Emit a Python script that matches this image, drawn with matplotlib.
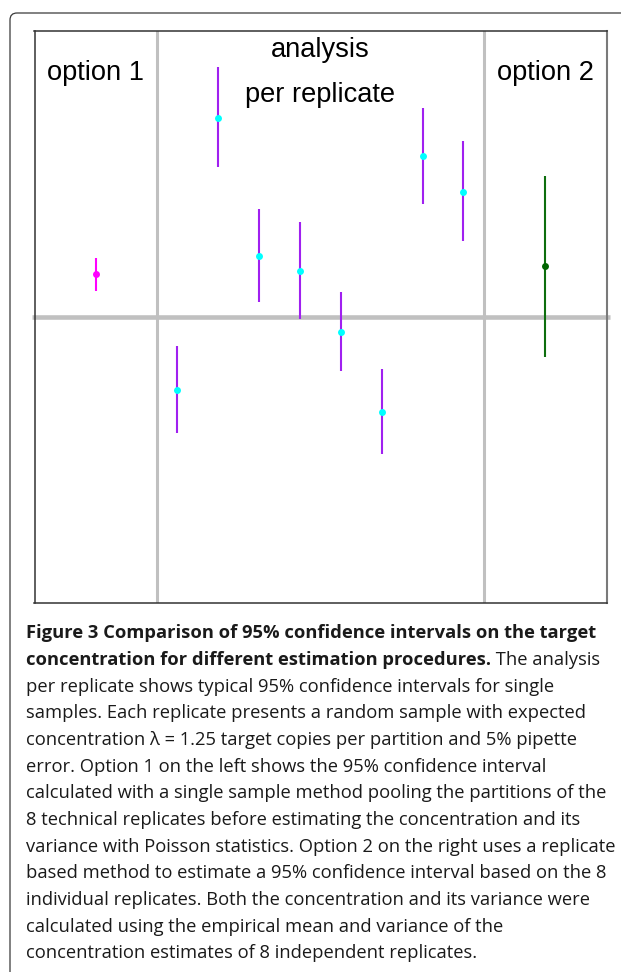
import matplotlib
matplotlib.use("Agg")
import matplotlib.pyplot as plt
from matplotlib.patches import FancyBboxPatch
from matplotlib.transforms import IdentityTransform

# concentration estimates (lambda) and 95% CI bounds
true_lambda = 1.25

rep_x = [1, 2, 3, 4, 5, 6, 7, 8]
rep_mid = [1.177, 1.449, 1.311, 1.296, 1.235, 1.155, 1.411, 1.375]
rep_low = [1.134, 1.400, 1.265, 1.248, 1.196, 1.113, 1.363, 1.326]
rep_high = [1.221, 1.500, 1.358, 1.345, 1.275, 1.198, 1.459, 1.426]

opt1_x, opt1_mid, opt1_low, opt1_high = -1, 1.293, 1.276, 1.309
opt2_x, opt2_mid, opt2_low, opt2_high = 10, 1.301, 1.210, 1.391

caption_bold = ["Figure 3 Comparison of 95% confidence intervals on the target",
                "concentration for different estimation procedures."]
caption_lines = [
    "per replicate shows typical 95% confidence intervals for single",
    "samples. Each replicate presents a random sample with expected",
    "concentration λ = 1.25 target copies per partition and 5% pipette",
    "error. Option 1 on the left shows the 95% confidence interval",
    "calculated with a single sample method pooling the partitions of the",
    "8 technical replicates before estimating the concentration and its",
    "variance with Poisson statistics. Option 2 on the right uses a replicate",
    "based method to estimate a 95% confidence interval based on the 8",
    "individual replicates. Both the concentration and its variance were",
    "calculated using the empirical mean and variance of the",
    "concentration estimates of 8 independent replicates.",
]

W, H = 621, 972
fig = plt.figure(figsize=(W / 100, H / 100), dpi=100)
fig.patch.set_facecolor("white")

# outer rounded frame, runs off the right and bottom edge
frame = FancyBboxPatch((10, -60), 700, H - 13 + 60,
                       boxstyle="round,pad=0,rounding_size=7",
                       transform=IdentityTransform(), fill=False,
                       edgecolor="#3a3a3a", linewidth=0.9)
fig.patches.append(frame)

ax = fig.add_axes([34.5 / W, (H - 603) / H, 572 / W, 572 / H])
ax.set_xlim(-2.5, 11.5)
ax.set_ylim(0.964, 1.536)
ax.set_xticks([])
ax.set_yticks([])
for s in ["left", "top", "bottom"]:
    ax.spines[s].set_color("#333333")
    ax.spines[s].set_linewidth(1.1)
ax.spines["right"].set_color("#7a7a7a")
ax.spines["right"].set_linewidth(1.5)

grey = "#c0c0c0"
ax.axvline(0.5, color=grey, lw=2.2, zorder=1)
ax.axvline(8.5, color=grey, lw=2.2, zorder=1)
ax.plot([-0.004, 1.006], [true_lambda, true_lambda], transform=ax.get_yaxis_transform(),
        color=grey, lw=3.3, solid_capstyle="butt", clip_on=False, zorder=1)

ax.vlines(rep_x, rep_low, rep_high, color="#a020f0", lw=1.5, zorder=3)
ax.plot(rep_x, rep_mid, "o", color="#00ffff", ms=5, mec="none", zorder=4)

ax.vlines([opt1_x], [opt1_low], [opt1_high], color="#ff00ff", lw=1.5, zorder=3)
ax.plot([opt1_x], [opt1_mid], "o", color="#ff00ff", ms=5, mec="none", zorder=4)

ax.vlines([opt2_x], [opt2_low], [opt2_high], color="#0e6e0e", lw=1.5, zorder=3)
ax.plot([opt2_x], [opt2_mid], "o", color="#006400", ms=5, mec="none", zorder=4)

lab = dict(fontsize=19.6, family="Liberation Sans", ha="center", va="center", color="black")
ax.text(-1, 1.25 + (317 - 73) * 0.001, "option 1", **lab)
ax.text(10, 1.25 + (317 - 73) * 0.001, "option 2", **lab)
ax.text(4.5, 1.25 + (317 - 50) * 0.001, "analysis", **lab)
ax.text(4.5, 1.25 + (317 - 95) * 0.001, "per replicate", **lab)

# caption, font size fitted so a full regular line spans the reference width
fam = ["Open Sans", "DejaVu Sans"]
renderer = fig.canvas.get_renderer()
probe = fig.text(0, 0, caption_lines[4], fontsize=10, family=fam)
fs = 10 * 581 / probe.get_window_extent(renderer).width
probe.remove()

cap = dict(fontsize=fs, family=fam, color="#1a1a1a", va="baseline", ha="left")
x0 = 26 / W
base0 = 638.3
step = 26.67
fig.text(x0, 1 - base0 / H, caption_bold[0], fontweight="bold", **cap)
t2 = fig.text(x0, 1 - (base0 + step) / H, caption_bold[1], fontweight="bold", **cap)
ax.annotate(" The analysis", xy=(1, 0), xycoords=t2, va="bottom", ha="left",
            fontsize=fs, family=fam, color="#1a1a1a", annotation_clip=False)
for i, line in enumerate(caption_lines):
    fig.text(x0, 1 - (base0 + step * (i + 2)) / H, line, **cap)

fig.savefig("out.png", dpi=100)
